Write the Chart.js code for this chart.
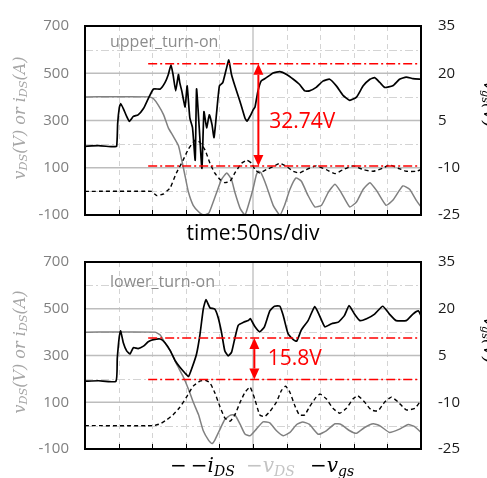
<!DOCTYPE html>
<html>
<head>
<meta charset="utf-8">
<script src="https://cdn.jsdelivr.net/npm/chart.js@4.4.1/dist/chart.umd.min.js"></script>
<style>
  body { margin: 0; background: #fff; }
  #wrap { position: relative; width: 487px; height: 478px; overflow: hidden; }
  canvas { position: absolute; left: 0; }
  .ytitle { position: absolute; white-space: nowrap; font: italic 16px "DejaVu Serif", serif; line-height: 20px; }
  .ytitle sub, #legend sub { font-size: 0.7em; vertical-align: -0.25em; }
  #legend span { position: absolute; top: 0; white-space: nowrap; }
</style>
</head>
<body>
<div id="wrap">
  <canvas id="upper" width="487" height="250" style="top:0"></canvas>
  <canvas id="lower" width="487" height="242" style="top:236px"></canvas>

  <div class="ytitle" style="left:22px;top:118px;color:#a6a6a6;transform:translate(-50%,-50%) rotate(-90deg)"><i>v</i><sub>DS</sub>(<i>V</i>) <i>or i</i><sub>DS</sub>(<i>A</i>)</div>
  <div class="ytitle" style="left:22px;top:352px;color:#a6a6a6;transform:translate(-50%,-50%) rotate(-90deg)"><i>v</i><sub>DS</sub>(<i>V</i>) <i>or i</i><sub>DS</sub>(<i>A</i>)</div>
  <div class="ytitle" style="left:487px;top:104px;color:#000;transform:translate(-50%,-50%) rotate(90deg)"><i>v</i><sub>gs</sub>(<i>V</i>)</div>
  <div class="ytitle" style="left:487px;top:340px;color:#000;transform:translate(-50%,-50%) rotate(90deg)"><i>v</i><sub>gs</sub>(<i>V</i>)</div>

  <div id="legend" style="position:absolute;left:0;top:455px;width:487px;height:23px;font:italic 20px 'DejaVu Serif',serif;line-height:20px">
    <span style="left:170px;color:#000">&minus;&thinsp;&minus;<i>i</i><sub>DS</sub></span>
    <span style="left:246px;color:#c4c4c4">&minus;<i>v</i><sub>DS</sub></span>
    <span style="left:310px;color:#000">&minus;<i>v</i><sub>gs</sub></span>
  </div>
</div>

<script>
Chart.defaults.font.family = '"Open Sans", "Noto Sans", sans-serif';
Chart.defaults.animation = false;

// time axis: 0..500 ns, 50 ns/div
const timeTicks = [0, 50, 100, 150, 200, 250, 300, 350, 400, 450, 500];
const leftTicks = [-100, 100, 300, 500, 700];   // vDS / iDS
const rightTicks = [-25, -10, 5, 20, 35];       // vgs

// ---- upper turn-on ----
const upperVgsT = [0, 20, 40, 47, 48.6, 51, 53, 57, 62, 66, 72, 79, 87, 94, 102, 112, 119, 124, 128, 131, 135, 139, 141, 144, 149, 152, 156, 160, 164, 166, 170, 174, 177, 181, 185, 189, 192, 196, 200, 205, 210, 214, 218, 223, 231, 238, 241, 246, 250, 253, 257, 262, 270, 280, 290, 300, 310, 319, 327, 334, 344, 354, 364, 374, 384, 394, 404, 414, 424, 431, 439, 446, 458, 468, 478, 488, 500];
const upperVgs = [-3.2, -3.0, -3.3, -3.2, 4, 9, 10.4, 8.8, 6.3, 4.7, 6.3, 6.8, 8.8, 11.9, 15, 15, 17, 19.6, 22.7, 19.6, 14.4, 19.6, 17, 14.4, 9.3, 16, 5.8, 2.7, -7.6, 15, 2.7, -10.2, 7.8, 2.7, 6.8, 3.7, -0.4, 7.8, 16, 17, 21.1, 24.2, 19.6, 16, 10.8, 5.8, 4.8, 6.5, 8.3, 9.3, 14, 17.5, 18.6, 20.1, 20.5, 19.6, 18.1, 16.5, 14.4, 14.4, 15.5, 17.5, 18.1, 16, 13, 11.4, 12.4, 16, 18.1, 18.6, 17, 15.5, 16, 18.1, 18.8, 18.3, 18.1];

const upperVdsT = [0, 96, 102, 109, 117, 124, 131, 139, 144, 149, 154, 161, 169, 176, 184, 189, 196, 203, 211, 218, 223, 231, 238, 244, 250, 255, 258, 262, 270, 280, 290, 297, 305, 314, 322, 332, 342, 352, 362, 372, 381, 394, 404, 414, 424, 434, 448, 458, 473, 483, 493, 500];
const upperVds = [400, 400, 392, 365, 324, 269, 235, 194, 132, 64, -4, -59, -86, -100, -93, -59, -4, 50, 78, 50, -4, -73, -100, -50, 10, 70, 85, 78, 23, -59, -100, -59, 9, 57, 43, -18, -66, -59, -4, 30, -4, -66, -45, 9, 37, 3, -59, -38, 23, 9, -38, -66];

const upperIdsT = [0, 99, 103, 107, 112, 117, 122, 127, 136, 146, 154, 164, 171, 179, 186, 193, 201, 208, 216, 223, 233, 241, 248, 253, 260, 270, 280, 290, 300, 310, 319, 329, 344, 359, 372, 384, 399, 414, 429, 443, 453, 466, 478, 493, 500];
const upperIds = [0, 0, -10, -18, -15, -11, 2, 16, 78, 132, 180, 217, 208, 173, 119, 78, 50, 37, 43, 78, 119, 132, 119, 92, 78, 92, 105, 119, 105, 85, 78, 92, 108, 92, 75, 92, 108, 92, 85, 98, 112, 98, 85, 85, 92];

// ---- lower turn-on ----
const lowerVgsT = [0, 20, 46, 48, 51, 53, 57, 62, 67, 72, 79, 87, 94, 102, 112, 119, 127, 134, 141, 149, 154, 159, 166, 171, 176, 180, 186, 193, 198, 203, 208, 213, 218, 222, 228, 236, 243, 246, 253, 260, 267, 275, 282, 290, 295, 302, 310, 315, 322, 332, 342, 349, 357, 367, 377, 386, 393, 401, 409, 419, 431, 443, 453, 463, 478, 488, 496, 500];
const lowerVgs = [-3.25, -3.1, -3.3, 4, 11, 12.9, 9.1, 6.5, 5.5, 7.5, 7.2, 8, 9.4, 10.1, 10.3, 9.1, 6.5, 3.4, 1.3, -0.7, -1.75, 0.9, 5.5, 11.6, 19.9, 22.9, 20.3, 19.9, 17.3, 12.6, 6.5, 4.9, 6, 9.6, 14.7, 15.7, 16.2, 16.8, 14.2, 12.6, 14.2, 19.3, 20.8, 20.8, 17.8, 12.1, 10.1, 9.6, 13.2, 16.2, 20.7, 17.8, 14.2, 15.2, 15.7, 17.8, 21, 18.3, 16.2, 16.8, 18.3, 20.8, 18.3, 16.2, 16.2, 18.3, 19.3, 17.8];

const lowerVdsT = [0, 104, 112, 119, 127, 136, 146, 154, 161, 169, 176, 184, 189, 193, 201, 208, 216, 223, 231, 238, 246, 255, 265, 275, 285, 295, 305, 315, 324, 334, 347, 359, 372, 381, 394, 404, 416, 429, 439, 453, 468, 481, 491, 500];
const lowerVds = [400, 400, 388, 354, 320, 265, 210, 156, 101, 46, -22, -63, -77, -63, -15, 26, 44, 46, 5, -36, -43, -15, 16, 12, -22, -43, -29, 5, 16, 5, -37, -22, 8, 5, -22, -33, -8, 8, -1, -29, -15, 5, -5, -29];

const lowerIdsT = [0, 102, 112, 122, 131, 141, 151, 161, 171, 179, 186, 193, 201, 208, 216, 223, 231, 238, 245.5, 252.5, 260, 267, 275, 285, 292, 298.5, 305, 312, 319, 327, 334, 344, 350, 359, 369, 379, 389, 399, 406, 416, 426, 436, 446, 456, 466, 478, 491, 500];
const lowerIds = [0, 0, 8, 26, 46, 78, 122, 169, 190, 194, 183, 142, 80, 33, 19, 46, 101, 142, 165, 115, 46, 38, 60, 101, 149, 169, 142, 87, 46, 46, 80, 122, 135, 115, 74, 53, 74, 115, 128, 101, 67, 63, 101, 122, 101, 67, 74, 108];

// red dash-dot levels (vgs, V)
const upperLevels = [23.0, -9.45];
const lowerLevels = [10.6, -2.7];

const pts = (t, v) => t.map((x, i) => ({ x, y: v[i] }));

const decor = {
  id: 'decor',
  beforeDatasetsDraw(chart, args, o) {
    const { ctx, chartArea: a, scales: { x, y } } = chart;
    ctx.save();
    // dash-dot light gridlines at even hundreds
    ctx.strokeStyle = '#d4d4d4';
    ctx.lineWidth = 1;
    ctx.setLineDash([8, 3, 2, 3]);
    [0, 200, 400, 600].forEach(v => {
      const py = Math.round(y.getPixelForValue(v)) + 0.5;
      ctx.beginPath(); ctx.moveTo(a.left, py); ctx.lineTo(a.right, py); ctx.stroke();
    });
    // dashed vertical divisions
    ctx.setLineDash([5, 4]);
    timeTicks.slice(1, -1).forEach(t => {
      if (t === 250) return;
      const px = Math.round(x.getPixelForValue(t)) + 0.5;
      ctx.beginPath(); ctx.moveTo(px, a.top); ctx.lineTo(px, a.bottom); ctx.stroke();
    });
    // solid gridlines
    ctx.setLineDash([]);
    ctx.strokeStyle = '#bdbdbd';
    ctx.lineWidth = 1.3;
    leftTicks.slice(1, -1).forEach(v => {
      const py = y.getPixelForValue(v);
      ctx.beginPath(); ctx.moveTo(a.left, py); ctx.lineTo(a.right, py); ctx.stroke();
    });
    const cx = x.getPixelForValue(250);
    ctx.beginPath(); ctx.moveTo(cx, a.top); ctx.lineTo(cx, a.bottom); ctx.stroke();

    // panel name
    ctx.fillStyle = '#8c8c8c';
    ctx.font = '16px "Open Sans", sans-serif';
    ctx.textBaseline = 'alphabetic';
    ctx.fillText(o.label, a.left + 25, a.top + o.labelDy);
    ctx.restore();
  },
  afterDatasetsDraw(chart, args, o) {
    const { ctx, chartArea: a, scales: { x, y1 } } = chart;
    ctx.save();
    // red dash-dot levels
    ctx.strokeStyle = '#ff0000';
    ctx.lineWidth = 1.5;
    ctx.setLineDash([9, 3, 2, 3]);
    const x0 = x.getPixelForValue(94);
    o.levels.forEach(v => {
      const py = y1.getPixelForValue(v);
      ctx.beginPath(); ctx.moveTo(x0, py); ctx.lineTo(a.right, py); ctx.stroke();
    });
    // double arrow
    ctx.setLineDash([]);
    const ax = x.getPixelForValue(o.arrowT);
    const yt = y1.getPixelForValue(o.levels[0]);
    const yb = y1.getPixelForValue(o.levels[1]);
    const hl = 11, hw = 5;
    ctx.lineWidth = 2;
    ctx.fillStyle = '#ff0000';
    ctx.beginPath(); ctx.moveTo(ax, yt + hl); ctx.lineTo(ax, yb - hl); ctx.stroke();
    ctx.beginPath(); ctx.moveTo(ax, yt); ctx.lineTo(ax - hw, yt + hl); ctx.lineTo(ax + hw, yt + hl); ctx.closePath(); ctx.fill();
    ctx.beginPath(); ctx.moveTo(ax, yb); ctx.lineTo(ax - hw, yb - hl); ctx.lineTo(ax + hw, yb - hl); ctx.closePath(); ctx.fill();
    ctx.font = '21px "Open Sans", sans-serif';
    ctx.textBaseline = 'middle';
    ctx.fillText(o.text, x.getPixelForValue(o.textT), y1.getPixelForValue(o.textV));

    // short inner ticks on the bottom border
    ctx.strokeStyle = '#000';
    ctx.lineWidth = 1;
    timeTicks.forEach(t => {
      const px = Math.round(x.getPixelForValue(t)) + 0.5;
      ctx.beginPath(); ctx.moveTo(px, a.bottom - 5); ctx.lineTo(px, a.bottom); ctx.stroke();
    });
    // plot frame
    ctx.lineWidth = 2;
    ctx.strokeRect(a.left, a.top, a.width, a.height);
    ctx.restore();
  }
};

function makeChart(id, vgsT, vgs, vdsT, vds, idsT, ids, opts) {
  return new Chart(document.getElementById(id), {
    type: 'line',
    data: {
      datasets: [
        { label: 'vgs', data: pts(vgsT, vgs), yAxisID: 'y1', borderColor: '#000', borderWidth: 1.7 },
        { label: 'iDS', data: pts(idsT, ids), yAxisID: 'y', borderColor: '#000', borderWidth: 1.4, borderDash: [4, 3] },
        { label: 'vDS', data: pts(vdsT, vds), yAxisID: 'y', borderColor: '#808080', borderWidth: 1.5 }
      ]
    },
    options: {
      responsive: false,
      parsing: false,
      elements: { point: { radius: 0 }, line: { tension: 0.15 } },
      layout: { padding: { top: opts.padTop, left: 0, right: 0, bottom: 0 } },
      scales: {
        x: {
          type: 'linear', min: 0, max: 500,
          ticks: { stepSize: 50, display: false },
          grid: { display: false },
          border: { display: false },
          title: { display: !!opts.xTitle, text: opts.xTitle, color: '#000', font: { size: 21 }, padding: { top: 0, bottom: 3 } },
          afterFit: s => { s.height = opts.xHeight; }
        },
        y: {
          position: 'left', min: -100, max: 700,
          ticks: { stepSize: 200, color: '#808080', font: { size: 15 }, padding: 16 },
          grid: { display: false, drawTicks: false },
          border: { display: false },
          afterFit: s => { s.width = 85; }
        },
        y1: {
          position: 'right', min: -25, max: 35,
          ticks: { stepSize: 15, color: '#1a1a1a', font: { size: 15 }, padding: 17 },
          grid: { display: false, drawTicks: false },
          border: { display: false },
          afterFit: s => { s.width = 66; }
        }
      },
      plugins: {
        legend: { display: false },
        tooltip: { enabled: false },
        decor: opts.decor
      }
    },
    plugins: [decor]
  });
}

makeChart('upper', upperVgsT, upperVgs, upperVdsT, upperVds, upperIdsT, upperIds, {
  padTop: 20, xHeight: 35, xTitle: 'time:50ns/div',
  decor: { label: 'upper_turn-on', labelDy: 21, levels: upperLevels, arrowT: 258, text: '32.74V', textT: 274, textV: 4.6 }
});

makeChart('lower', lowerVgsT, lowerVgs, lowerVdsT, lowerVds, lowerIdsT, lowerIds, {
  padTop: 18, xHeight: 29, xTitle: '',
  decor: { label: 'lower_turn-on', labelDy: 25, levels: lowerLevels, arrowT: 252, text: '15.8V', textT: 272, textV: 4.0 }
});
</script>
</body>
</html>
